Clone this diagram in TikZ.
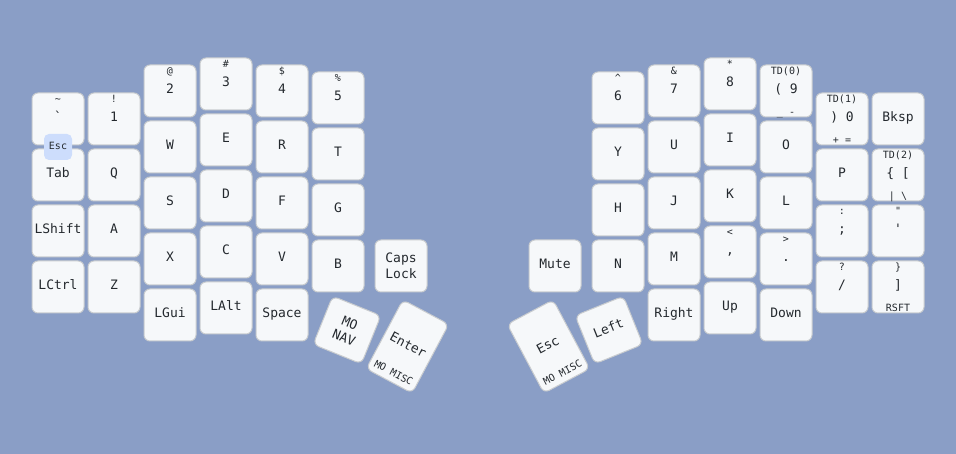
\documentclass[tikz,border=0pt]{standalone}
\usepackage{fontspec}
\newfontfamily\keyfont{DejaVu Sans Mono}
\definecolor{bgblue}{HTML}{8A9EC6}
\definecolor{keyfill}{HTML}{F6F8FA}
\definecolor{keyline}{HTML}{C9CCCF}
\definecolor{keytext}{HTML}{24292E}
\definecolor{combofill}{HTML}{CDDDFC}
\begin{document}
\begin{tikzpicture}[x=1pt, y=-1pt,
  keycap/.style={draw=keyline, fill=keyfill, line width=1pt, rounded corners=6pt,
    minimum width=52pt, minimum height=52pt, inner sep=0pt, text=keytext,
    font=\keyfont\fontsize{13}{16}\selectfont},
  key/.style={keycap, text height=9.5pt, text depth=3.5pt},
  key2/.style={keycap, align=center},
  small/.style={inner sep=0pt, text=keytext, text height=7.3pt, text depth=2.7pt,
    font=\keyfont\fontsize{10}{12}\selectfont},
  combo/.style={small, fill=combofill, rounded corners=5pt,
    minimum width=28pt, minimum height=26pt}]
% background and page size
\fill[bgblue] (0,0) rectangle (956,454);
\useasboundingbox (0,0) rectangle (956,454);

% left hand, outer two columns
\node[key] (kgrave) at (58,119) {\char"60};
\node[small] (sgrave) at ([yshift=19pt]kgrave.center) {\char"7E};
\node[key] (kone) at (114,119) {1};
\node[small] (sone) at ([yshift=19pt]kone.center) {!};
\node[key] (ktab) at (58,175) {Tab};
\node[key] (kq) at (114,175) {Q};
\node[key] (klshift) at (58,231) {LShift};
\node[key] (ka) at (114,231) {A};
\node[key] (klctrl) at (58,287) {LCtrl};
\node[key] (kz) at (114,287) {Z};
% left hand, staggered columns
\node[key] (ktwo) at (170,91) {2};
\node[small] (stwo) at ([yshift=19pt]ktwo.center) {@};
\node[key] (kw) at (170,147) {W};
\node[key] (ks) at (170,203) {S};
\node[key] (kx) at (170,259) {X};
\node[key] (klgui) at (170,315) {LGui};
\node[key] (kthree) at (226,84) {3};
\node[small] (sthree) at ([yshift=19pt]kthree.center) {\#};
\node[key] (ke) at (226,140) {E};
\node[key] (kd) at (226,196) {D};
\node[key] (kc) at (226,252) {C};
\node[key] (klalt) at (226,308) {LAlt};
\node[key] (kfour) at (282,91) {4};
\node[small] (sfour) at ([yshift=19pt]kfour.center) {\$};
\node[key] (kr) at (282,147) {R};
\node[key] (kf) at (282,203) {F};
\node[key] (kv) at (282,259) {V};
\node[key] (kspace) at (282,315) {Space};
\node[key] (kfive) at (338,98) {5};
\node[small] (sfive) at ([yshift=19pt]kfive.center) {\%};
\node[key] (kt) at (338,154) {T};
\node[key] (kg) at (338,210) {G};
\node[key] (kb) at (338,266) {B};
\node[key2] (kcaps) at (401,266) {Caps\\Lock};
% left thumbs
\begin{scope}[shift={(347,330)}, rotate=-22]
  \node[key2, transform shape] (knav) at (0,0) {MO\\NAV};
\end{scope}
\begin{scope}[shift={(407.5,346.5)}, rotate=-28]
  \node[key, minimum height=78pt, transform shape] (kenter) at (0,0) {Enter};
  \node[small, transform shape] (henter) at (0,31) {MO MISC};
\end{scope}

% right hand, staggered columns
\node[key] (ksix) at (618,98) {6};
\node[small] (ssix) at ([yshift=19pt]ksix.center) {\char"5E};
\node[key] (ky) at (618,154) {Y};
\node[key] (kh) at (618,210) {H};
\node[key] (kn) at (618,266) {N};
\node[key] (kseven) at (674,91) {7};
\node[small] (sseven) at ([yshift=19pt]kseven.center) {\&};
\node[key] (ku) at (674,147) {U};
\node[key] (kj) at (674,203) {J};
\node[key] (km) at (674,259) {M};
\node[key] (kright) at (674,315) {Right};
\node[key] (keight) at (730,84) {8};
\node[small] (seight) at ([yshift=19pt]keight.center) {*};
\node[key] (ki) at (730,140) {I};
\node[key] (kk) at (730,196) {K};
\node[key] (kcomma) at (730,252) {,};
\node[small] (scomma) at ([yshift=19pt]kcomma.center) {<};
\node[key] (kup) at (730,308) {Up};
\node[key] (knine) at (786,91) {( 9};
\node[small] (snine) at ([yshift=19pt]knine.center) {TD(0)};
\node[small] (hnine) at ([yshift=-22pt]knine.center) {\_ -};
\node[key] (ko) at (786,147) {O};
\node[key] (kl) at (786,203) {L};
\node[key] (kdot) at (786,259) {.};
\node[small] (sdot) at ([yshift=19pt]kdot.center) {>};
\node[key] (kdown) at (786,315) {Down};
% right hand, outer two columns
\node[key] (kzero) at (842,119) {) 0};
\node[small] (szero) at ([yshift=19pt]kzero.center) {TD(1)};
\node[small] (hzero) at ([yshift=-22pt]kzero.center) {+ =};
\node[key] (kp) at (842,175) {P};
\node[key] (ksemi) at (842,231) {;};
\node[small] (ssemi) at ([yshift=19pt]ksemi.center) {:};
\node[key] (kslash) at (842,287) {/};
\node[small] (sslash) at ([yshift=19pt]kslash.center) {?};
\node[key] (kbksp) at (898,119) {Bksp};
\node[key] (kbrack) at (898,175) {\{ [};
\node[small] (sbrack) at ([yshift=19pt]kbrack.center) {TD(2)};
\node[small] (hbrack) at ([yshift=-22pt]kbrack.center) {| \char"5C};
\node[key] (kquote) at (898,231) {\char"27};
\node[small] (squote) at ([yshift=19pt]kquote.center) {\char"22};
\node[key] (kbrace) at (898,287) {]};
\node[small] (sbrace) at ([yshift=19pt]kbrace.center) {\}};
\node[small] (hbrace) at ([yshift=-22pt]kbrace.center) {RSFT};
\node[key] (kmute) at (555,266) {Mute};
% right thumbs
\begin{scope}[shift={(609,330)}, rotate=22]
  \node[key, transform shape] (kleft) at (0,0) {Left};
\end{scope}
\begin{scope}[shift={(548.5,346.5)}, rotate=28]
  \node[key, minimum height=78pt, transform shape] (kesc) at (0,0) {Esc};
  \node[small, transform shape] (hesc) at (0,31) {MO MISC};
\end{scope}

% combo between grave and tab
\node[combo] (cesc) at (58,147) {Esc};
\end{tikzpicture}
\end{document}
